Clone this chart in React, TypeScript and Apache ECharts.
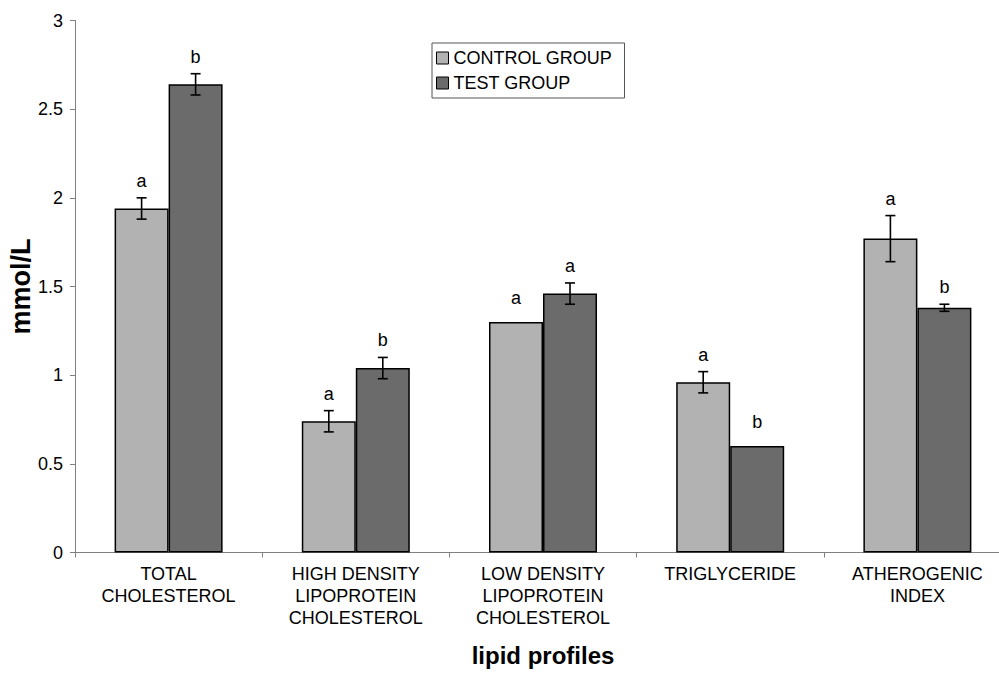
import React, { useEffect, useRef } from "react";
import * as echarts from "echarts";

// Lipid profile categories (x axis), wrapped onto several lines
const categories: string[] = [
  "TOTAL\nCHOLESTEROL",
  "HIGH DENSITY\nLIPOPROTEIN\nCHOLESTEROL",
  "LOW DENSITY\nLIPOPROTEIN\nCHOLESTEROL",
  "TRIGLYCERIDE",
  "ATHEROGENIC\nINDEX",
];

const seriesNames: string[] = ["CONTROL GROUP", "TEST GROUP"];

// Mean values, mmol/L
const controlValues: number[] = [1.94, 0.74, 1.3, 0.96, 1.77];
const testValues: number[] = [2.64, 1.04, 1.46, 0.6, 1.38];

// Error (± SEM) per bar
const controlErrors: number[] = [0.06, 0.06, 0, 0.06, 0.13];
const testErrors: number[] = [0.06, 0.06, 0.06, 0, 0.02];

// Significance letters drawn above each bar
const controlLetters: string[] = ["a", "a", "a", "a", "a"];
const testLetters: string[] = ["b", "b", "a", "b", "b"];

const yTicks = { min: 0, max: 3, interval: 0.5 };

const FONT = "'Liberation Sans', Arial, Helvetica, sans-serif";
const BAR_WIDTH = 54;
const CONTROL_COLOR = "#b2b2b2";
const TEST_COLOR = "#6b6b6b";

function errorSeries(
  name: string,
  values: number[],
  errors: number[],
  letters: string[],
  side: number
) {
  return {
    type: "custom",
    name: name + " error",
    silent: true,
    z: 5,
    data: values.map((v, i) => [i, v, errors[i]]),
    encode: { x: 0, y: 1 },
    renderItem: (_params: any, api: any) => {
      const idx = api.value(0);
      const v = api.value(1);
      const err = api.value(2);
      const letter = letters[idx];
      const center = api.coord([idx, v]);
      const x = center[0] + (side * BAR_WIDTH) / 2;
      const top = api.coord([idx, v + err])[1];
      const bottom = api.coord([idx, v - err])[1];
      const lineStyle = { stroke: "#000", lineWidth: 1.6 };
      const children: any[] = [];
      if (err > 0) {
        children.push(
          { type: "line", shape: { x1: x, y1: top, x2: x, y2: bottom }, style: lineStyle },
          { type: "line", shape: { x1: x - 5, y1: top, x2: x + 5, y2: top }, style: lineStyle },
          { type: "line", shape: { x1: x - 5, y1: bottom, x2: x + 5, y2: bottom }, style: lineStyle }
        );
      }
      const textY = err > 0 ? top - 17 : top - 24;
      children.push({
        type: "text",
        style: {
          text: letter,
          x,
          y: textY,
          fill: "#000",
          font: `18px ${FONT}`,
          align: "center",
          verticalAlign: "middle",
        },
      });
      return { type: "group", children };
    },
  };
}

export default function App() {
  const ref = useRef<HTMLDivElement>(null);

  useEffect(() => {
    if (!ref.current) return;
    const chart = echarts.init(ref.current, undefined, { renderer: "svg" });
    chart.setOption({
      animation: false,
      backgroundColor: "#ffffff",
      textStyle: { fontFamily: FONT },
      // plot area runs slightly past the right edge of the canvas
      grid: {
        left: 75,
        width: 936,
        top: 20.5,
        bottom: 121.5,
        containLabel: false,
        outerBoundsMode: "none",
      },
      legend: {
        data: seriesNames,
        orient: "vertical",
        left: 432,
        top: 43,
        padding: [6, 12, 6, 4],
        itemGap: 7,
        itemWidth: 12,
        itemHeight: 12,
        itemTextGap: 4,
        icon: "rect",
        borderColor: "#555",
        borderWidth: 1,
        itemStyle: { borderColor: "#000", borderWidth: 1 },
        textStyle: { fontSize: 18, color: "#000", fontFamily: FONT },
      },
      xAxis: {
        type: "category",
        data: categories,
        name: "lipid profiles",
        nameLocation: "middle",
        nameGap: 91,
        nameMoveOverlap: false,
        nameTextStyle: { fontSize: 24, fontWeight: "bold", color: "#000", fontFamily: FONT },
        axisLine: { lineStyle: { color: "#808080", width: 1 } },
        axisTick: { show: true, length: 5, lineStyle: { color: "#808080" } },
        axisLabel: {
          fontSize: 18,
          lineHeight: 22,
          color: "#000",
          margin: 10,
          interval: 0,
          fontFamily: FONT,
        },
      },
      yAxis: {
        type: "value",
        min: yTicks.min,
        max: yTicks.max,
        interval: yTicks.interval,
        name: "mmol/L",
        nameLocation: "middle",
        nameGap: 41,
        nameMoveOverlap: false,
        nameTextStyle: { fontSize: 27, fontWeight: "bold", color: "#000", fontFamily: FONT },
        axisLine: { show: true, lineStyle: { color: "#808080", width: 1 } },
        axisTick: { show: true, length: 5, lineStyle: { color: "#808080" } },
        splitLine: { show: false },
        axisLabel: { fontSize: 18, color: "#000", margin: 12, fontFamily: FONT },
      },
      series: [
        {
          type: "bar",
          name: seriesNames[0],
          data: controlValues,
          barWidth: BAR_WIDTH,
          barGap: "0%",
          itemStyle: { color: CONTROL_COLOR, borderColor: "#000", borderWidth: 1.5 },
        },
        {
          type: "bar",
          name: seriesNames[1],
          data: testValues,
          barWidth: BAR_WIDTH,
          barGap: "0%",
          itemStyle: { color: TEST_COLOR, borderColor: "#000", borderWidth: 1.5 },
        },
        errorSeries(seriesNames[0], controlValues, controlErrors, controlLetters, -1),
        errorSeries(seriesNames[1], testValues, testErrors, testLetters, 1),
      ],
    });
    return () => chart.dispose();
  }, []);

  return (
    <div
      ref={ref}
      style={{ position: "absolute", left: 0, top: 0, width: 999, height: 674, background: "#fff" }}
    />
  );
}
